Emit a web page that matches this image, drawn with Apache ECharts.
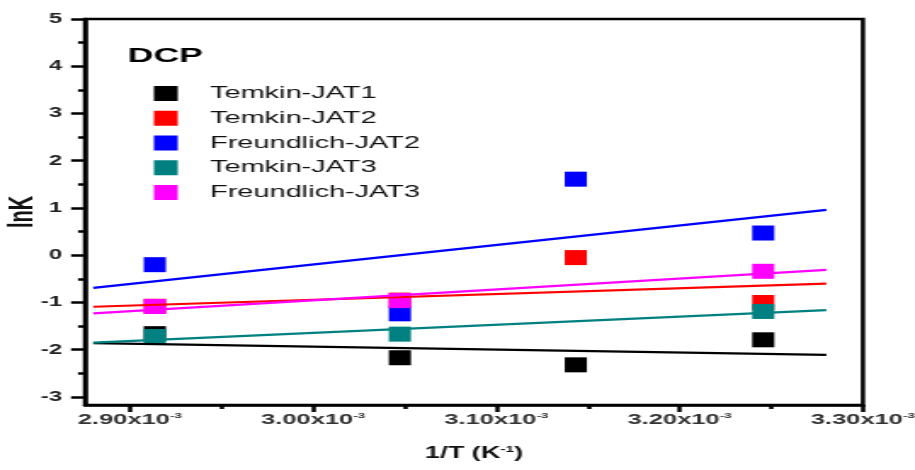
<!DOCTYPE html>
<html>
<head>
<meta charset="utf-8">
<script src="https://cdn.jsdelivr.net/npm/echarts@6/dist/echarts.min.js"></script>
<style>
    html, body { margin: 0; padding: 0; background: #fff; overflow: hidden; }
    /* the reference is a horizontally stretched Origin plot, so stretch the canvas the same way */
    #chart { width: 538px; height: 470px; transform: scaleX(1.7007); transform-origin: 0 0; }
</style>
</head>
<body>
<div id="chart"></div>
<script>
// 1/T, in units of 10^-3 K^-1
const invT = [2.9136, 3.0473, 3.1433, 3.2456];

// lnK points (null = no point at that temperature)
const temkinJAT1 = [-1.66, -2.17, -2.32, -1.79];
const temkinJAT2 = [-1.08, -0.95, -0.05, -1.0];
const freundlichJAT2 = [-0.2, -1.24, 1.61, 0.47];
const temkinJAT3 = [-1.72, -1.67, null, -1.19];
const freundlichJAT3 = [-1.085, -0.96, null, -0.34];

// fitted lines, read at both ends
const fitX = [2.88, 3.28];
const fitJAT1 = [-1.86, -2.11];
const fitTemkinJAT2 = [-1.09, -0.60];
const fitFreundlichJAT2 = [-0.69, 0.96];
const fitTemkinJAT3 = [-1.85, -1.16];
const fitFreundlichJAT3 = [-1.23, -0.31];

// ticks
const xTicks = [2.9, 3.0, 3.1, 3.2, 3.3];
const xMinorTicks = [2.95, 3.05, 3.15, 3.25];
const yTicks = [-3, -2, -1, 0, 1, 2, 3, 4, 5];
const yMinorTicks = [-2.5, -1.5, -0.5, 0.5, 1.5, 2.5, 3.5, 4.5];

const FONT = '"Liberation Sans", Arial, sans-serif';
const xMin = 2.8755, xMax = 3.3;
const yMin = -3.17, yMax = 5;

const groups = [
    { name: 'Temkin-JAT1', color: '#000000', pts: temkinJAT1, fit: fitJAT1 },
    { name: 'Temkin-JAT2', color: '#ff0000', pts: temkinJAT2, fit: fitTemkinJAT2 },
    { name: 'Freundlich-JAT2', color: '#0000ff', pts: freundlichJAT2, fit: fitFreundlichJAT2 },
    { name: 'Temkin-JAT3', color: '#008080', pts: temkinJAT3, fit: fitTemkinJAT3 },
    { name: 'Freundlich-JAT3', color: '#ff00ff', pts: freundlichJAT3, fit: fitFreundlichJAT3 }
];

const scatterSeries = groups.map(g => ({
    name: g.name,
    type: 'scatter',
    symbol: 'rect',
    symbolSize: [13, 15],
    itemStyle: { color: g.color, opacity: 1 },
    data: invT.map((x, i) => [x, g.pts[i]]).filter(p => p[1] != null),
    z: 2
}));

const lineSeries = groups.map(g => ({
    name: g.name + ' fit',
    type: 'line',
    showSymbol: false,
    symbol: 'none',
    silent: true,
    lineStyle: { color: g.color, width: 2.2 },
    data: fitX.map((x, i) => [x, g.fit[i]]),
    z: 3
}));

const axisLineStyle = { color: '#000', width: 2.5 };

const option = {
    animation: false,
    backgroundColor: '#fff',
    textStyle: { fontFamily: FONT },
    title: {
        text: 'DCP',
        left: 75,
        top: 46,
        padding: 0,
        textStyle: { fontFamily: FONT, fontSize: 21, fontWeight: 'bold', color: '#000' }
    },
    legend: {
        data: groups.map(g => g.name),
        orient: 'vertical',
        left: 90.5,
        top: 85,
        padding: 0,
        icon: 'rect',
        itemWidth: 14,
        itemHeight: 15,
        itemGap: 7.75,
        selectedMode: false,
        textStyle: { fontFamily: FONT, fontSize: 17, color: '#111', lineHeight: 15, padding: [0, 0, 0, 14] }
    },
    grid: {
        left: 50,
        right: 30.6,
        top: 19,
        bottom: 65,
        show: true,
        borderColor: '#000',
        borderWidth: 2.5,
        containLabel: false,
        outerBoundsMode: 'none'
    },
    xAxis: [{
        type: 'value',
        min: xMin,
        max: xMax,
        axisLine: { show: true, onZero: false, lineStyle: axisLineStyle },
        axisTick: { show: true, length: 7, lineStyle: axisLineStyle, customValues: xTicks },
        splitLine: { show: false },
        axisLabel: {
            customValues: xTicks,
            margin: 7,
            formatter: v => '{a|' + v.toFixed(2) + 'x10}{b|-3}',
            rich: {
                a: { fontFamily: FONT, fontSize: 15, fontWeight: 'bold', color: '#333', lineHeight: 16 },
                b: { fontFamily: FONT, fontSize: 8, fontWeight: 'bold', color: '#333', lineHeight: 10, verticalAlign: 'top' }
            }
        },
        name: '1/T (K{s|-1})',
        nameLocation: 'middle',
        nameGap: 40,
        nameMoveOverlap: false,
        nameTextStyle: {
            fontFamily: FONT, fontSize: 16, fontWeight: 'bold', color: '#111', lineHeight: 18,
            rich: { s: { fontFamily: FONT, fontSize: 9, fontWeight: 'bold', color: '#111', lineHeight: 10, verticalAlign: 'top' } }
        }
    }, {
        type: 'value',
        position: 'bottom',
        min: xMin,
        max: xMax,
        axisLine: { show: false, onZero: false },
        axisLabel: { show: false },
        splitLine: { show: false },
        axisTick: { show: true, length: 4, lineStyle: axisLineStyle, customValues: xMinorTicks }
    }],
    yAxis: [{
        type: 'value',
        min: yMin,
        max: yMax,
        axisLine: { show: true, onZero: false, lineStyle: axisLineStyle },
        axisTick: { show: true, length: 8.2, lineStyle: axisLineStyle, customValues: yTicks },
        splitLine: { show: false },
        axisLabel: {
            customValues: yTicks,
            margin: 13.5,
            fontFamily: FONT, fontSize: 14, fontWeight: 'bold', color: '#222'
        },
        name: 'lnK',
        nameLocation: 'middle',
        nameGap: 27,
        nameMoveOverlap: false,
        nameTextStyle: { fontFamily: FONT, fontSize: 20, fontWeight: 'bold', color: '#111' }
    }, {
        type: 'value',
        position: 'left',
        min: yMin,
        max: yMax,
        axisLine: { show: false, onZero: false },
        axisLabel: { show: false },
        splitLine: { show: false },
        axisTick: { show: true, length: 4.1, lineStyle: axisLineStyle, customValues: yMinorTicks }
    }],
    series: scatterSeries.concat(lineSeries)
};

const myChart = echarts.init(document.getElementById('chart'));
myChart.setOption(option);
</script>
</body>
</html>
